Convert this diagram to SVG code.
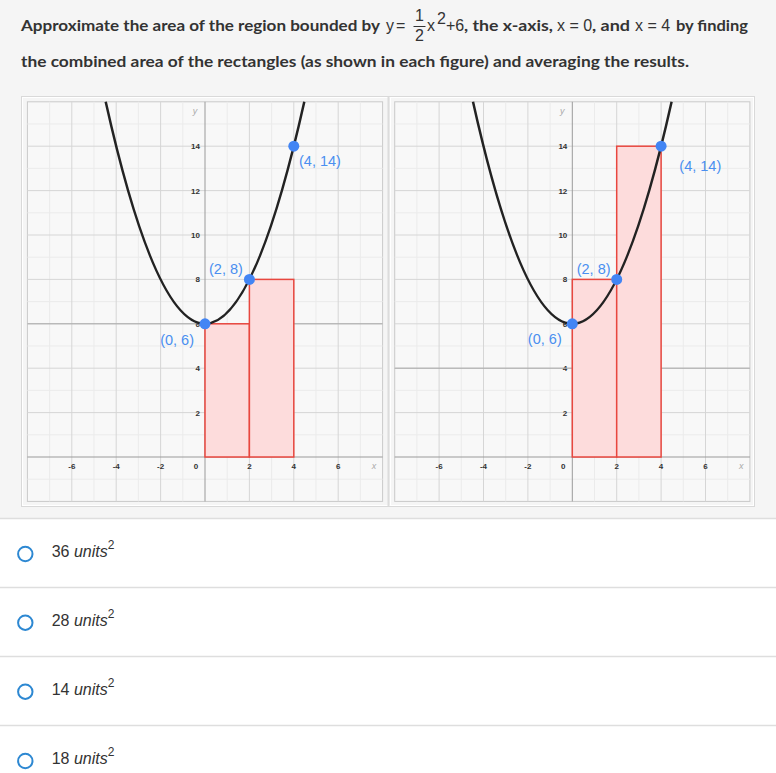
<svg xmlns="http://www.w3.org/2000/svg" width="776" height="773" viewBox="0 0 776 773">
<style>
.hb{font-family:Lato,"Liberation Sans",sans-serif;font-weight:700;font-size:15px;fill:#333}
.hm{font-family:"Liberation Sans",Arial,sans-serif;font-size:16px;fill:#333}
.minor{stroke:#ebebeb;stroke-width:1;fill:none}
.major{stroke:#d6d6d6;stroke-width:1;fill:none}
.axis{stroke:#9a9a9a;stroke-width:1;fill:none}
.gb{stroke:#c9c9c9;stroke-width:1;fill:#f8f8f8}
.tk{font-family:"Liberation Sans",Arial,sans-serif;font-weight:700;font-size:8px;fill:#333}
.tkm{text-anchor:middle}
.tke{text-anchor:end}
.al{font-family:"Liberation Sans",Arial,sans-serif;font-style:italic;font-size:9px;fill:#aaa;text-anchor:middle}
.bar{fill:#fddcdc;stroke:#e8473f;stroke-width:1.5}
.curve{fill:none;stroke:#222;stroke-width:2.5}
.pt{fill:#4285f4}
.pl{font-family:"Liberation Sans",Arial,sans-serif;font-size:14.5px;fill:#4a8ff0}
.sep{stroke:#dedede;stroke-width:1.5}
.radio{fill:#fff;stroke:#2d88d2;stroke-width:2}
.opt{font-family:"Liberation Sans",Arial,sans-serif;font-size:16px;fill:#333}
</style>
<defs>
<g id="grid">
<rect class="gb" x="-177.6" y="-355.2" width="355.2" height="399.6"/>
<path class="minor" d="M-155.4 44.4V-355.2M-111 44.4V-355.2M-66.6 44.4V-355.2M-22.2 44.4V-355.2M22.2 44.4V-355.2M66.6 44.4V-355.2M111 44.4V-355.2M155.4 44.4V-355.2M-177.6 22.2H177.6M-177.6 -22.2H177.6M-177.6 -66.6H177.6M-177.6 -111H177.6M-177.6 -155.4H177.6M-177.6 -199.8H177.6M-177.6 -244.2H177.6M-177.6 -288.6H177.6M-177.6 -333H177.6"/>
<path class="major" d="M-133.2 44.4V-355.2M-88.8 44.4V-355.2M-44.4 44.4V-355.2M44.4 44.4V-355.2M88.8 44.4V-355.2M133.2 44.4V-355.2M-177.6 -44.4H177.6M-177.6 -88.8H177.6M-177.6 -133.2H177.6M-177.6 -177.6H177.6M-177.6 -222H177.6M-177.6 -266.4H177.6M-177.6 -310.8H177.6"/>
<path class="axis" d="M-177.6 0H177.6M0 44.4V-355.2"/>
<g class="tk tke">
<text x="-5" y="-41.4">2</text><text x="-5" y="-85.8">4</text><text x="-5" y="-130.2">6</text><text x="-5" y="-174.6">8</text><text x="-5" y="-219">10</text><text x="-5" y="-263.4">12</text><text x="-5" y="-307.8">14</text>
</g>
<g class="tk tkm">
<text x="-133.2" y="12">-6</text><text x="-88.8" y="12">-4</text><text x="-44.4" y="12">-2</text><text x="-9" y="12">0</text><text x="44.4" y="12">2</text><text x="88.8" y="12">4</text><text x="133.2" y="12">6</text>
</g>
<text class="al" x="169" y="12">x</text>
<text class="al" x="-10" y="-343">y</text>
</g>
</defs>

<rect x="0" y="0" width="776" height="518" fill="#f5f5f5"/>
<rect x="0" y="518" width="776" height="255" fill="#fff"/>

<g id="header">
<text class="hb" x="21" y="31" textLength="359" lengthAdjust="spacingAndGlyphs">Approximate the area of the region bounded by</text>
<text class="hm" x="386" y="31">y</text>
<text class="hm" x="396" y="31">=</text>
<text class="hm" x="419.5" y="21" text-anchor="middle" font-size="15">1</text>
<line x1="413.5" y1="26.5" x2="425.5" y2="26.5" stroke="#333" stroke-width="1"/>
<text class="hm" x="419.5" y="41" text-anchor="middle" font-size="15">2</text>
<text class="hm" x="427" y="31">x</text>
<text class="hm" x="437" y="24" font-size="11">2</text>
<text class="hm" x="446" y="31">+6</text>
<text class="hb" x="464" y="31" textLength="89" lengthAdjust="spacingAndGlyphs">, the x-axis,</text>
<text class="hm" x="557" y="31">x = 0</text>
<text class="hb" x="592" y="31" textLength="38" lengthAdjust="spacingAndGlyphs">, and</text>
<text class="hm" x="635" y="31">x = 4</text>
<text class="hb" x="676" y="31" textLength="72" lengthAdjust="spacingAndGlyphs">by finding</text>
<text class="hb" x="21" y="67" textLength="668" lengthAdjust="spacingAndGlyphs">the combined area of the rectangles (as shown in each figure) and averaging the results.</text>
</g>

<g id="frame">
<rect x="21.5" y="96.5" width="733" height="410" fill="#f5f5f5" stroke="#d9d9d9" stroke-width="1"/>
<rect x="22.5" y="97.5" width="731" height="408" fill="none" stroke="#fff" stroke-width="1"/>
<line x1="388.5" y1="97" x2="388.5" y2="506" stroke="#dcdcdc" stroke-width="2"/>
<line x1="390.5" y1="97" x2="390.5" y2="506" stroke="#fff" stroke-width="1"/>
</g>

<g id="graph-left" transform="translate(205,457)">
<use href="#grid"/>
<line x1="-177.6" y1="-133.2" x2="177.6" y2="-133.2" stroke="#a8a8a8" stroke-width="1"/>
<rect class="bar" x="0" y="-133.2" width="44.4" height="133.2"/>
<rect class="bar" x="44.4" y="-177.6" width="44.4" height="177.6"/>
<path class="curve" d="M-99.3 -355.2Q0 88.8 99.3 -355.2"/>
<circle class="pt" cx="0" cy="-133.2" r="5.5"/>
<circle class="pt" cx="44.4" cy="-177.6" r="5.5"/>
<circle class="pt" cx="88.8" cy="-310.8" r="5.5"/>
<text class="pl" x="94" y="-291">(4, 14)</text>
<text class="pl" x="4" y="-183">(2, 8)</text>
<text class="pl" x="-11" y="-112" text-anchor="end">(0, 6)</text>
</g>

<g id="graph-right" transform="translate(572.3,457)">
<use href="#grid"/>
<line x1="-177.6" y1="-88.8" x2="177.6" y2="-88.8" stroke="#a8a8a8" stroke-width="1"/>
<rect class="bar" x="0" y="-177.6" width="44.4" height="177.6"/>
<rect class="bar" x="44.4" y="-310.8" width="44.4" height="310.8"/>
<path class="curve" d="M-99.3 -355.2Q0 88.8 99.3 -355.2"/>
<circle class="pt" cx="0" cy="-133.2" r="5.5"/>
<circle class="pt" cx="44.4" cy="-177.6" r="5.5"/>
<circle class="pt" cx="88.8" cy="-310.8" r="5.5"/>
<text class="pl" x="107" y="-286">(4, 14)</text>
<text class="pl" x="4.4" y="-183">(2, 8)</text>
<text class="pl" x="-10.6" y="-113" text-anchor="end">(0, 6)</text>
</g>

<g id="options">
<line class="sep" x1="0" y1="518.5" x2="776" y2="518.5"/>
<line class="sep" x1="0" y1="587.5" x2="776" y2="587.5"/>
<line class="sep" x1="0" y1="656.5" x2="776" y2="656.5"/>
<line class="sep" x1="0" y1="725.5" x2="776" y2="725.5"/>
<g id="option-1"><circle class="radio" cx="25.3" cy="554" r="7.2"/><text class="opt" x="51.7" y="556.7">36 <tspan font-style="italic">units</tspan><tspan font-size="12" dy="-8">2</tspan></text></g>
<g id="option-2"><circle class="radio" cx="25.3" cy="622.7" r="7.2"/><text class="opt" x="51.7" y="625.7">28 <tspan font-style="italic">units</tspan><tspan font-size="12" dy="-8">2</tspan></text></g>
<g id="option-3"><circle class="radio" cx="25.3" cy="691.7" r="7.2"/><text class="opt" x="51.7" y="694.9">14 <tspan font-style="italic">units</tspan><tspan font-size="12" dy="-8">2</tspan></text></g>
<g id="option-4"><circle class="radio" cx="25.3" cy="761" r="7.2"/><text class="opt" x="51.7" y="764.2">18 <tspan font-style="italic">units</tspan><tspan font-size="12" dy="-8">2</tspan></text></g>
</g>
</svg>
